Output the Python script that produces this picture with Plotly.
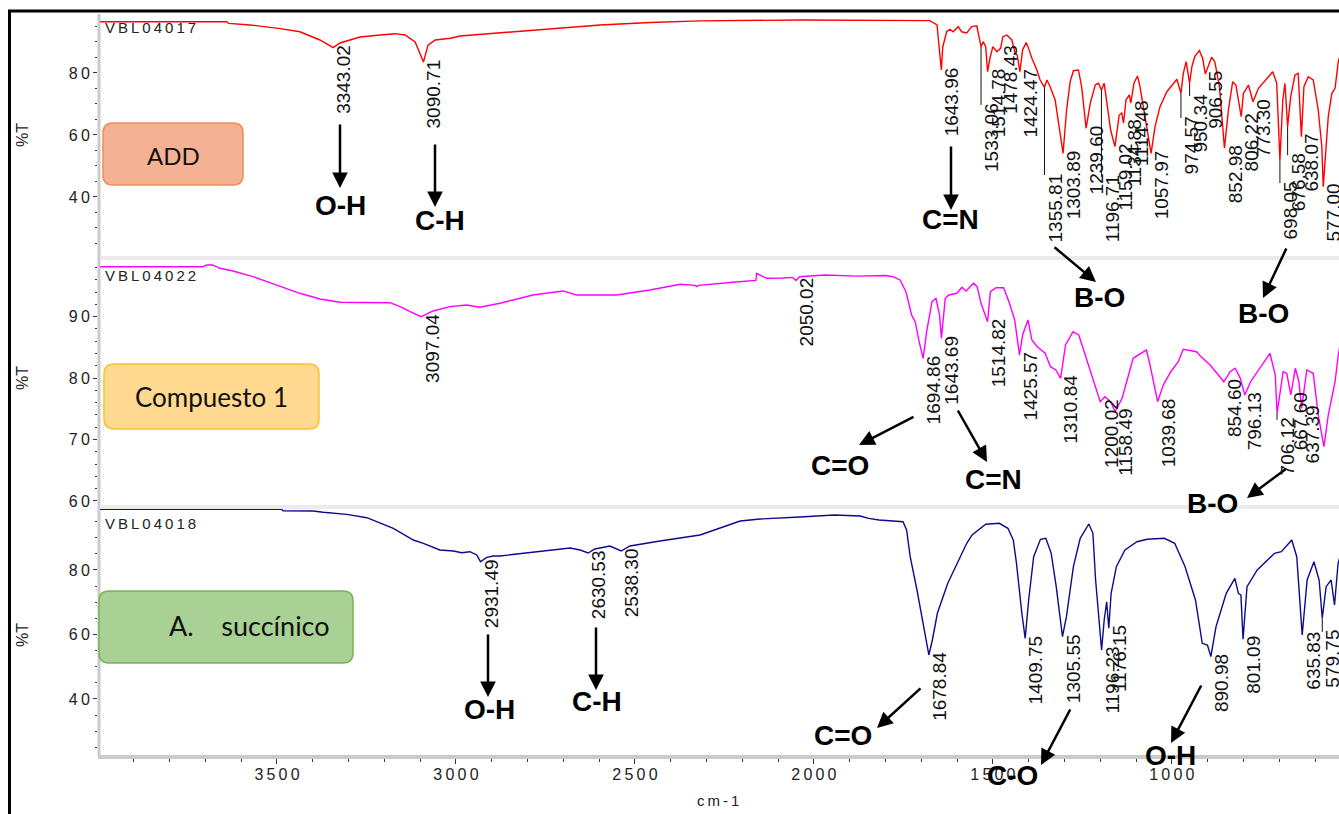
import plotly.graph_objects as go

# ---------------- figure geometry (pixels) ----------------
W, H = 1339, 814
ML, MT, MB = 98, 14, 59
PW, PH = W - ML, H - MT - MB
BOTTOM = H - MB


def px(x):
    return (x - ML) / PW


def py(y):
    return (BOTTOM - y) / PH


FONT = "Liberation Sans, Arial, sans-serif"
BOX_FONT = "Lato, Open Sans, sans-serif"
THIN = "\u2009"


def spaced(s):
    return THIN.join(s)


# ---------------- spectra: (wavenumber cm-1, %T) ----------------
add_points = [
    (3994, 96.55), (3640, 96.55), (3635, 96.0), (3575, 95.5), (3491, 94.3), (3436, 93.3),
    (3380, 90.65), (3343.02, 88.16), (3324, 89.68), (3268, 91.6), (3212, 92.26), (3170, 92.68),
    (3142, 92.26), (3114, 90.0), (3090.71, 83.55), (3078, 89.0), (3058, 90.65), (3016, 91.2),
    (2988, 91.94), (2877, 92.9), (2737, 94.2), (2597, 95.5), (2458, 96.3), (2318, 96.8),
    (2039, 97.1), (1759, 97.1), (1676, 96.9), (1656, 95.5), (1649, 86.45), (1643.96, 80.97),
    (1640, 88.39), (1629, 93.3), (1620, 94.1), (1611, 93.3), (1597, 94.94), (1587, 93.3),
    (1573, 92.9), (1559, 94.94), (1545, 95.2), (1538, 91.7), (1533.06, 88.49), (1527, 90.1),
    (1520, 88.5), (1514.78, 80.42), (1508, 84.84), (1500, 88.49), (1489, 86.87), (1478.43, 87.97),
    (1472, 91.7), (1461, 92.26), (1447, 90.65), (1438, 86.45), (1432, 85.8), (1424.47, 80.42),
    (1417, 87.42), (1407, 89.8), (1402, 88.5), (1391, 84.74), (1377, 80.97), (1368, 77.74),
    (1355.81, 75.39), (1349, 77.74), (1340, 75.58), (1326, 71.29), (1315, 62.68), (1303.89, 54.1),
    (1294, 68.07), (1284, 77.2), (1275, 80.74), (1261, 80.97), (1252, 75.58), (1239.60, 62.16),
    (1228, 70.23), (1214, 76.13), (1205, 76.68), (1196.71, 74.52), (1189, 76.68), (1182, 71.29),
    (1171, 61.6), (1159.02, 56.23), (1147, 66.45), (1140, 67.1), (1134.88, 63.87), (1128, 71.29),
    (1119, 72.9), (1114.48, 70.32), (1106, 76.68), (1096, 79.03), (1089, 75.58), (1075, 65.9),
    (1063, 58.39), (1057.97, 54.1), (1047, 62.68), (1033, 69.13), (1014, 73.97), (999, 76.13),
    (986, 77.97), (974.57, 73.45), (968, 79.9), (960, 83.65), (950.34, 76.68), (944, 82.03),
    (936, 85.26), (923, 87.2), (914, 84.74), (906.55, 79.68), (898, 82.58), (889, 85.07),
    (880, 83.65), (867, 75.58), (852.98, 55.71), (842, 68.07), (830, 77.2), (821, 76.13),
    (806.22, 65.9), (800, 73.45), (786, 76.13), (773.30, 70.74), (758, 75.07), (735, 78.29),
    (718, 80.42), (707, 76.68), (698.05, 51.94), (690, 71.29), (684, 76.68), (676.58, 62.68),
    (668, 72.36), (656, 79.36), (647, 79.9), (638.07, 59.45), (631, 75.58), (619, 78.81),
    (605, 77.74), (591, 68.07), (581, 56.23), (577.00, 43.32), (563, 65.9), (553, 73.45),
    (544, 75.07), (535, 83.65), (525, 87.4),
]

cmp_points = [
    (3994, 98.14), (3707, 98.14), (3695, 98.42), (3680, 98.42), (3659, 97.88), (3623, 97.44),
    (3567, 96.51), (3500, 95.16), (3436, 93.81), (3380, 92.88), (3324, 92.34), (3184, 92.28),
    (3156, 91.63), (3128, 90.81), (3097.04, 90.0), (3064, 90.93), (3017, 91.63), (2970, 91.9),
    (2933, 91.53), (2877, 92.18), (2785, 93.53), (2701, 94.19), (2663, 93.53), (2551, 93.53),
    (2458, 94.35), (2373, 95.28), (2332, 95.1), (2327, 94.89), (2322, 95.1), (2226, 95.6),
    (2172, 95.86), (2162, 95.9), (2160, 97.07), (2150, 96.8), (2132, 96.25), (2086, 96.3),
    (2060, 96.4), (2050.02, 95.9), (2040, 96.5), (1969, 96.79), (1880, 96.6), (1800, 96.7),
    (1780, 96.51), (1759, 95.98), (1743, 94.07), (1727, 90.28), (1717, 89.18), (1706, 85.93),
    (1694.86, 83.22), (1685, 87.56), (1670, 92.44), (1659, 92.99), (1649, 90.28), (1643.69, 86.48),
    (1633, 92.99), (1623, 93.53), (1601, 93.81), (1586, 94.79), (1575, 94.19), (1554, 95.44),
    (1544, 94.89), (1533, 92.18), (1514.82, 89.18), (1507, 94.07), (1491, 94.72), (1470, 94.72),
    (1455, 92.44), (1439, 89.46), (1425.57, 83.76), (1417, 87.02), (1402, 89.46), (1391, 86.2),
    (1376, 85.11), (1354, 84.04), (1339, 81.86), (1324, 81.32), (1310.84, 79.97), (1297, 85.39),
    (1276, 87.56), (1260, 87.02), (1239, 83.22), (1218, 79.15), (1200.02, 76.16), (1187, 76.97),
    (1171, 76.16), (1158.49, 74.53), (1139, 76.71), (1108, 83.22), (1087, 84.04), (1071, 84.58),
    (1061, 82.13), (1039.68, 76.16), (1024, 78.87), (1003, 81.04), (982, 82.67), (968, 84.7),
    (931, 84.3), (919, 83.5), (893, 82.13), (854.60, 79.41), (837, 81.04), (823, 81.6),
    (809, 80.0), (796.13, 77.25), (780, 79.41), (754, 81.6), (726, 84.04), (711, 80.5),
    (706.12, 74.27), (689, 81.04), (679, 80.78), (667.60, 77.25), (655, 81.6), (645, 79.41),
    (637.39, 75.08), (623, 81.32), (605, 80.78), (591, 73.99), (575, 68.83), (563, 73.99),
    (544, 79.41), (535, 83.76), (525, 87.0),
]

suc_points = [
    (3994, 98.82), (3487, 98.82), (3483, 98.38), (3399, 98.29), (3371, 97.89), (3305, 97.26),
    (3249, 96.21), (3175, 92.93), (3119, 89.30), (3091, 88.27), (3045, 86.20), (3007, 85.89),
    (2984, 85.36), (2961, 85.67), (2942, 84.65), (2931.49, 82.57), (2914, 83.93), (2896, 84.34),
    (2877, 84.34), (2765, 85.89), (2681, 86.82), (2653, 86.2), (2630.53, 85.27), (2612, 86.51),
    (2570, 87.44), (2538.30, 85.89), (2514, 87.44), (2430, 88.99), (2318, 90.85), (2206, 95.19),
    (2150, 95.81), (2039, 96.43), (1943, 97.05), (1871, 96.74), (1847, 96.02), (1818, 95.5),
    (1751, 94.97), (1741, 92.40), (1731, 84.12), (1712, 73.79), (1693, 62.42), (1678.84, 53.64),
    (1669, 58.29), (1655, 66.57), (1626, 75.88), (1587, 84.65), (1573, 88.27), (1558, 90.85),
    (1520, 94.17), (1482, 94.48), (1458, 92.93), (1443, 89.30), (1434, 82.07), (1419, 66.57),
    (1409.75, 58.81), (1400, 70.69), (1386, 84.12), (1367, 89.51), (1352, 89.83), (1337, 85.17),
    (1323, 74.82), (1305.55, 59.32), (1294.5, 65.52), (1275, 81.02), (1256, 89.83), (1232, 94.26),
    (1220.5, 91.37), (1213, 76.89), (1203, 63.47), (1196.23, 55.19), (1189, 64.49), (1182, 70.16),
    (1176.15, 61.92), (1169.6, 72.77), (1155, 81.02), (1131, 86.2), (1097.5, 88.77), (1069, 89.51),
    (1021, 89.83), (992, 88.27), (963, 81.02), (934, 70.69), (915, 57.27), (900.6, 56.74),
    (890.98, 53.12), (876.6, 62.42), (848, 72.77), (824, 77.42), (814, 72.77), (807, 72.24),
    (801.09, 58.5), (790, 74.82), (761.5, 80.0), (713, 85.17), (694, 85.67), (665, 89.30),
    (651, 84.12), (635.83, 59.84), (622, 76.89), (603, 82.57), (588.5, 76.89), (579.75, 65.02),
    (569, 74.82), (555, 76.89), (545.5, 69.15), (535.6, 82.07), (525, 86.0),
]

add_wn, add_t = map(list, zip(*add_points))
cmp_wn, cmp_t = map(list, zip(*cmp_points))
suc_wn, suc_t = map(list, zip(*suc_points))

# ---------------- peak picks ----------------
add_peaks = [3343.02, 3090.71, 1643.96, 1533.06, 1514.78, 1478.43, 1424.47, 1355.81, 1303.89,
             1239.60, 1196.71, 1159.02, 1134.88, 1114.48, 1057.97, 974.57, 950.34, 906.55,
             852.98, 806.22, 773.30, 698.05, 676.58, 638.07, 577.00]
cmp_peaks = [3097.04, 2050.02, 1694.86, 1643.69, 1514.82, 1425.57, 1310.84, 1200.02, 1158.49,
             1039.68, 854.60, 796.13, 706.12, 667.60, 637.39]
suc_peaks = [2931.49, 2630.53, 2538.30, 1678.84, 1409.75, 1305.55, 1196.23, 1176.15, 890.98,
             801.09, 635.83, 579.75]

# labels pushed below their peak (%T of the label top), joined by a leader line
add_lowered = {1533.06: 69.7, 1355.81: 47.1, 1196.71: 46.5, 974.57: 65.5, 950.34: 72.6,
               698.05: 44.5, 676.58: 53.5}
cmp_lowered = {706.12: 73.2}
suc_lowered = {579.75: 60.8}

panels = [
    dict(name="VBL04017", wn=add_wn, t=add_t, color="#ff0000", yref="y",
         peaks=add_peaks, lowered=add_lowered),
    dict(name="VBL04022", wn=cmp_wn, t=cmp_t, color="#ff00ff", yref="y2",
         peaks=cmp_peaks, lowered=cmp_lowered),
    dict(name="VBL04018", wn=suc_wn, t=suc_t, color="#0b0b8c", yref="y3",
         peaks=suc_peaks, lowered=suc_lowered),
]

fig = go.Figure()
shapes = []
annotations = []


def paper_text(text, x, y, size, family=FONT, color="#222", **kw):
    d = dict(x=px(x), y=py(y), xref="paper", yref="paper", text=text, showarrow=False,
             xanchor="center", yanchor="middle", font=dict(family=family, size=size, color=color))
    d.update(kw)
    return d


for p in panels:
    fig.add_trace(go.Scatter(
        x=p["wn"], y=p["t"], mode="lines", xaxis="x", yaxis=p["yref"],
        line=dict(color=p["color"], width=1.4), hoverinfo="skip", showlegend=False))
    lookup = dict(zip(p["wn"], p["t"]))
    for wn in p["peaks"]:
        t_peak = lookup[wn]
        if wn in p["lowered"]:
            top = p["lowered"][wn]
            shapes.append(dict(type="line", xref="x", yref=p["yref"], x0=wn, x1=wn,
                               y0=t_peak, y1=top, line=dict(color="#111", width=1)))
            shift = 3
        else:
            top = t_peak
            shift = 4
        annotations.append(dict(
            x=wn, y=top, xref="x", yref=p["yref"], text=f"{wn:.2f}", textangle=-90,
            xanchor="left", yanchor="top", showarrow=False, yshift=shift, xshift=-1, borderpad=0,
            font=dict(family=FONT, size=19, color="#111")))

# ---------------- frame, axis line, panel separators ----------------
shapes.append(dict(type="rect", xref="paper", yref="paper", x0=px(9.5), x1=px(W + 20),
                   y0=py(H + 20), y1=py(11), line=dict(color="black", width=3),
                   fillcolor="rgba(0,0,0,0)", layer="above"))
shapes.append(dict(type="line", xref="paper", yref="paper", x0=px(99), x1=px(99),
                   y0=py(14), y1=py(BOTTOM), line=dict(color="#cbcbcb", width=3), layer="below"))
for ysep in (258, 507):
    shapes.append(dict(type="rect", xref="paper", yref="paper", x0=px(100), x1=px(W + 5),
                       y0=py(ysep + 2), y1=py(ysep - 2), line=dict(width=0),
                       fillcolor="#ebebeb", layer="below"))


def rounded_box(x0, y0, x1, y1, r=10):
    return (f"M {px(x0 + r)},{py(y0)} L {px(x1 - r)},{py(y0)} "
            f"Q {px(x1)},{py(y0)} {px(x1)},{py(y0 + r)} L {px(x1)},{py(y1 - r)} "
            f"Q {px(x1)},{py(y1)} {px(x1 - r)},{py(y1)} L {px(x0 + r)},{py(y1)} "
            f"Q {px(x0)},{py(y1)} {px(x0)},{py(y1 - r)} L {px(x0)},{py(y0 + r)} "
            f"Q {px(x0)},{py(y0)} {px(x0 + r)},{py(y0)} Z")


boxes = [
    ("ADD", (103, 123, 243, 185), "#f4b194", "#ee8c55", (173, 155), 24),
    ("Compuesto 1", (104, 364, 319, 429), "#fed98f", "#f8c22e", (211, 397), 26),
    ("A.\u00a0\u00a0\u00a0\u00a0succínico", (99, 591, 353, 663), "#aad195", "#79b356", (249, 625), 27),
]
for text, (x0, y0, x1, y1), fill, edge, (cx, cy), size in boxes:
    shapes.append(dict(type="path", xref="paper", yref="paper", path=rounded_box(x0, y0, x1, y1),
                       fillcolor=fill, line=dict(color=edge, width=1.5), layer="above"))
    annotations.append(paper_text(text, cx, cy, size, family=BOX_FONT, color="#111"))

# sample codes and %T titles
for name, ycode, ytitle in (("VBL04017", 27, 135), ("VBL04022", 275, 378), ("VBL04018", 523, 635)):
    annotations.append(paper_text(spaced(name), 103, ycode, 15, xanchor="left"))
    annotations.append(paper_text("%T", 22, ytitle, 16, textangle=-90))

annotations.append(paper_text(spaced("cm-1"), 718, 800, 15))

# ---------------- band assignments (arrows + bold labels) ----------------
arrows = [  # (head x, head y, tail x, tail y)
    (340, 188, 340, 123), (435, 207, 435, 143), (951, 210, 951, 145),
    (1096, 282, 1053, 246), (1263, 298, 1287, 247),
    (859, 445, 915, 416), (987, 462, 957, 409), (1247, 498, 1287, 468),
    (488, 697, 488, 633), (596, 690, 596, 626), (877, 728, 922, 687),
    (1041, 765, 1071, 708), (1171, 743, 1202, 684),
]
for hx, hy, tx, ty in arrows:
    annotations.append(dict(x=px(hx), y=py(hy), xref="paper", yref="paper", ax=tx - hx, ay=ty - hy,
                            axref="pixel", ayref="pixel", text="", showarrow=True, arrowhead=2,
                            arrowsize=1.25, arrowwidth=2.5, arrowcolor="black", standoff=0))

groups = [
    ("O-H", 340, 205), ("C-H", 440, 221), ("C=N", 950, 220), ("B-O", 1099, 297), ("B-O", 1263, 313),
    ("C=O", 840, 465), ("C=N", 993, 480), ("B-O", 1212, 503),
    ("O-H", 489, 709), ("C-H", 597, 701), ("C=O", 843, 735), ("C-O", 1013, 775), ("O-H", 1170, 755),
]
for text, cx, cy in groups:
    annotations.append(paper_text(f"<b>{text}</b>", cx, cy, 28, color="black"))

# ---------------- axes ----------------
x_major = [3500, 3000, 2500, 2000, 1500, 1000]
x_minor = [v for v in range(600, 4000, 100) if v % 500]

tick_font = dict(family=FONT, size=16, color="#222")


def y_axis(domain, rng, major, minor):
    return dict(domain=domain, range=rng, anchor="x", showgrid=False, zeroline=False,
                showline=False, tickmode="array", tickvals=major,
                ticktext=[spaced(str(v)) for v in major], ticks="outside", ticklen=4,
                tickcolor="#333", tickfont=tick_font,
                minor=dict(tickmode="array", tickvals=minor, ticks="outside", ticklen=2,
                           tickcolor="#333"))


fig.update_layout(
    width=W, height=H, margin=dict(l=ML, r=0, t=MT, b=MB),
    paper_bgcolor="white", plot_bgcolor="white", showlegend=False,
    xaxis=dict(domain=[0, 1], range=[4000, 533], anchor="y3", showgrid=False, zeroline=False,
               showline=True, linecolor="#cbcbcb", linewidth=4, tickmode="array",
               tickvals=x_major, ticktext=[spaced(str(v)) for v in x_major],
               ticks="outside", ticklen=5, tickcolor="#333", tickfont=tick_font,
               ticklabelstandoff=-3,
               minor=dict(tickmode="array", tickvals=x_minor, ticks="outside", ticklen=3,
                          tickcolor="#333")),
    yaxis=y_axis([py(258), 1.0], [20.32, 99.03], [40, 60, 80],
                 [v for v in range(25, 100, 5) if v % 20]),
    yaxis2=y_axis([py(507), py(260)], [59.01, 99.23], [60, 70, 80, 90],
                  [v for v in range(60, 100, 2) if v % 10]),
    yaxis3=y_axis([0, py(509)], [22.63, 98.91], [40, 60, 80],
                  [v for v in range(25, 100, 5) if v % 20]),
    shapes=shapes,
    annotations=annotations,
)

fig.write_html("out.html")
